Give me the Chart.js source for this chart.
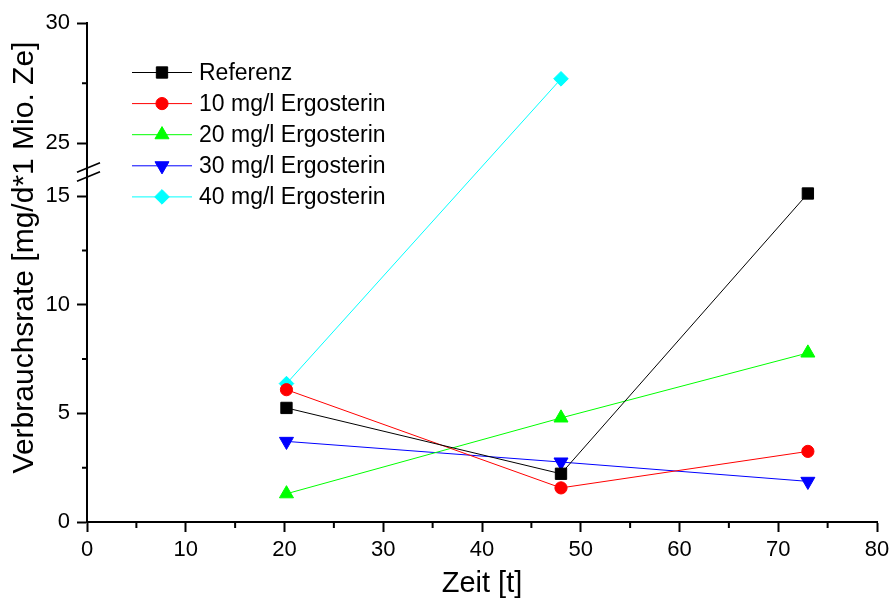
<!DOCTYPE html>
<html>
<head>
<meta charset="utf-8">
<script src="https://cdn.jsdelivr.net/npm/chart.js@4.4.0/dist/chart.umd.min.js"></script>
<style>
  html, body { margin: 0; padding: 0; background: #fff; }
</style>
</head>
<body>
<canvas id="chart" width="890" height="601"></canvas>
<script>
// ---- data ----
const zeit = [20.2, 48, 73];
const referenz = [5.25, 2.22, 15.12];
const ergo10 = [6.09, 1.57, 3.25];
const ergo20 = [1.3, 4.79, 7.78];
const ergo30 = [3.71, 2.76, 1.87];
const ergo40 = [6.37, 27.68];
const seriesNames = ['Referenz', '10 mg/l Ergosterin', '20 mg/l Ergosterin', '30 mg/l Ergosterin', '40 mg/l Ergosterin'];

const xTicks = [0, 10, 20, 30, 40, 50, 60, 70, 80];
const xMinorTicks = [5, 15, 25, 35, 45, 55, 65, 75];
const yTicks = [0, 5, 10, 15, 25, 30];
const yMinorTicks = [2.5, 7.5, 12.5, 27.5];
const yTitle = 'Verbrauchsrate [mg/d*1 Mio. Ze]';

// y axis break: lower part 0..breakLow, upper part breakHigh..30
const breakLow = 16.1, breakHigh = 23.8, breakFrac = 0.701;

const FONT = '"Liberation Sans", Arial, sans-serif';

// linear scale with a gap between breakLow and breakHigh
class BrokenLinearScale extends Chart.LinearScale {
  static id = 'brokenLinear';
  breakPixel() {
    return this.bottom - (this.bottom - this.top) * breakFrac;
  }
  getPixelForValue(v) {
    const yb = this.breakPixel();
    if (v <= breakLow) return this.bottom - (v - this.min) / (breakLow - this.min) * (this.bottom - yb);
    if (v >= breakHigh) return yb - (v - breakHigh) / (this.max - breakHigh) * (yb - this.top);
    return yb;
  }
  getValueForPixel(p) {
    const yb = this.breakPixel();
    if (p >= yb) return this.min + (this.bottom - p) / (this.bottom - yb) * (breakLow - this.min);
    return breakHigh + (yb - p) / (yb - this.top) * (this.max - breakHigh);
  }
}
Chart.register(BrokenLinearScale);

function pts(ys) {
  return ys.map((y, i) => ({x: zeit[i], y}));
}

function ds(i, ys, color, style, radius, rotation) {
  return {
    label: seriesNames[i],
    data: pts(ys),
    borderColor: color,
    borderWidth: 1,
    pointStyle: style,
    pointRadius: radius,
    pointRotation: rotation || 0,
    pointBackgroundColor: color,
    pointBorderColor: color,
    pointBorderWidth: 1,
    tension: 0,
    fill: false
  };
}

// minor ticks, axis break marks, y title (a bit above the axis centre like the original)
const axisExtras = {
  id: 'axisExtras',
  afterDraw(chart) {
    const {ctx, scales: {x, y}} = chart;
    ctx.save();
    ctx.strokeStyle = '#000';
    ctx.lineWidth = 2;
    ctx.beginPath();
    xMinorTicks.forEach(v => {
      const px = x.getPixelForValue(v);
      ctx.moveTo(px, x.top); ctx.lineTo(px, x.top + 6);
    });
    yMinorTicks.forEach(v => {
      const py = y.getPixelForValue(v);
      ctx.moveTo(y.right, py); ctx.lineTo(y.right - 5, py);
    });
    ctx.stroke();

    const by = y.breakPixel(), ax = y.right;
    ctx.lineWidth = 1.7;
    ctx.beginPath();
    [-4.5, 4.5].forEach(off => {
      ctx.moveTo(ax - 10, by + off + 4.5);
      ctx.lineTo(ax + 13, by + off - 5);
    });
    ctx.stroke();

    ctx.translate(25, (y.top + y.bottom) / 2 - 15);
    ctx.rotate(-Math.PI / 2);
    ctx.font = '30px ' + FONT;
    ctx.fillStyle = '#000';
    ctx.textAlign = 'center';
    ctx.textBaseline = 'middle';
    ctx.fillText(yTitle, 0, 0);
    ctx.restore();
  }
};

// legend inside the plot, line + marker + label
const insideLegend = {
  id: 'insideLegend',
  afterDraw(chart) {
    const ctx = chart.ctx;
    const x0 = chart.chartArea.left + 45, y0 = chart.chartArea.top + 49.5, rowH = 31.1;
    ctx.save();
    ctx.font = '23px ' + FONT;
    ctx.textBaseline = 'middle';
    chart.data.datasets.forEach((d, i) => {
      const cy = y0 + i * rowH;
      ctx.strokeStyle = d.borderColor;
      ctx.lineWidth = 1;
      ctx.beginPath(); ctx.moveTo(x0, cy); ctx.lineTo(x0 + 60, cy); ctx.stroke();
      ctx.fillStyle = d.pointBackgroundColor;
      ctx.strokeStyle = d.pointBorderColor;
      Chart.helpers.drawPoint(ctx, {pointStyle: d.pointStyle, radius: d.pointRadius, rotation: d.pointRotation, borderWidth: 1}, x0 + 30, cy);
      ctx.fillStyle = '#000';
      ctx.fillText(d.label, x0 + 67, cy + 1);
    });
    ctx.restore();
  }
};

new Chart(document.getElementById('chart'), {
  type: 'line',
  data: {
    datasets: [
      ds(0, referenz, '#000000', 'rect', 8),
      ds(1, ergo10, '#ff0000', 'circle', 6.1),
      ds(2, ergo20, '#00ff00', 'triangle', 8.1),
      ds(3, ergo30, '#0000ff', 'triangle', 8.1, 180),
      ds(4, ergo40, '#00ffff', 'rectRot', 7.3)
    ]
  },
  options: {
    responsive: false,
    animation: false,
    devicePixelRatio: 1,
    layout: {padding: {top: 23, right: 13, left: 0, bottom: 0}},
    plugins: {legend: {display: false}, tooltip: {enabled: false}},
    scales: {
      x: {
        type: 'linear', min: 0, max: 80,
        afterBuildTicks: s => { s.ticks = xTicks.map(v => ({value: v})); },
        afterFit: s => { s.height = 79; s.paddingLeft = 0; s.paddingRight = 0; },
        border: {display: true, color: '#000', width: 2},
        grid: {drawOnChartArea: false, drawTicks: true, tickLength: 10, tickWidth: 2, tickColor: '#000'},
        ticks: {autoSkip: false, maxRotation: 0, padding: 5, color: '#000', font: {family: FONT, size: 22}, callback: v => String(v)},
        title: {display: true, text: 'Zeit [t]', color: '#000', font: {family: FONT, size: 29, lineHeight: 1.2}, padding: {top: 0, bottom: 0}}
      },
      y: {
        type: 'brokenLinear', min: 0, max: 30,
        afterBuildTicks: s => { s.ticks = yTicks.map(v => ({value: v})); },
        afterFit: s => { s.width = 87; s.paddingTop = 0; s.paddingBottom = 0; },
        border: {display: true, color: '#000', width: 2},
        grid: {drawOnChartArea: false, drawTicks: true, tickLength: 10, tickWidth: 2, tickColor: '#000'},
        ticks: {autoSkip: false, padding: 7, color: '#000', font: {family: FONT, size: 22}, callback: v => String(v)}
      }
    }
  },
  plugins: [axisExtras, insideLegend]
});
</script>
</body>
</html>
